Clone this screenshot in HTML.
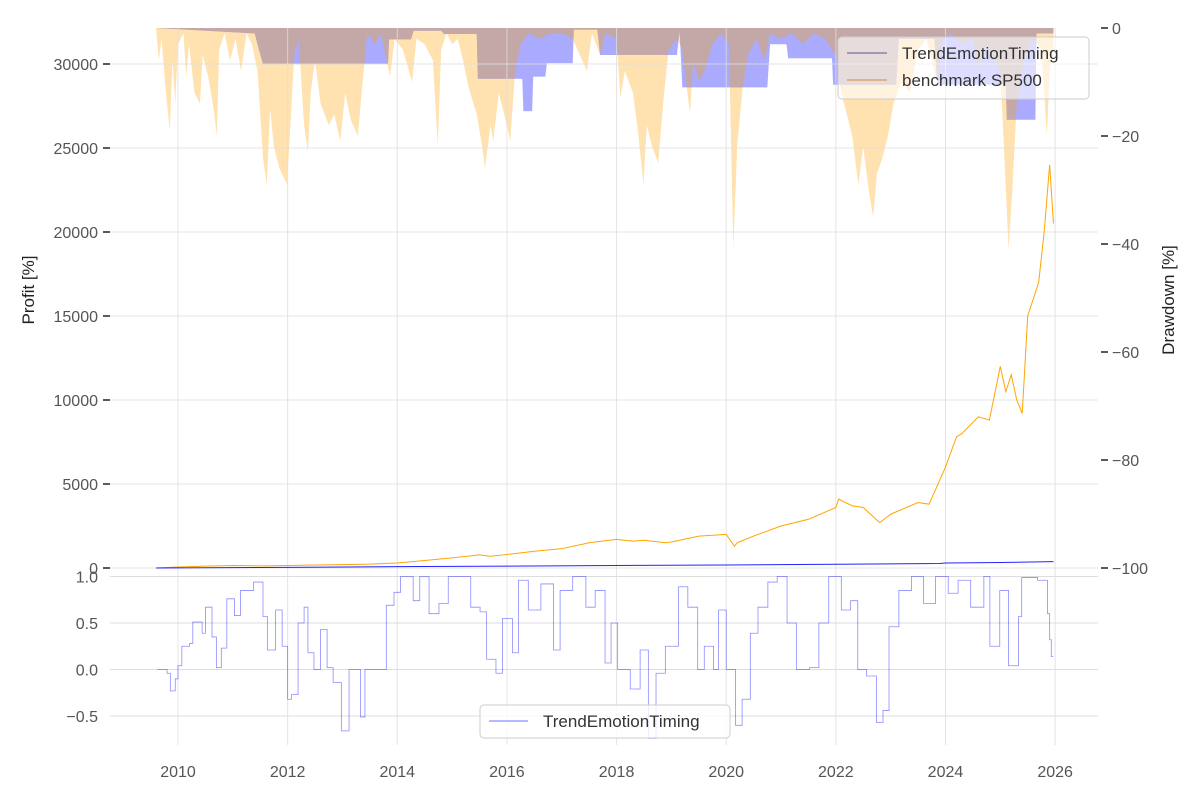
<!DOCTYPE html>
<html><head><meta charset="utf-8"><style>
html,body{margin:0;padding:0;background:#fff}
svg{display:block;font-family:"Liberation Sans",sans-serif}
</style></head><body>
<svg id="chart" width="1200" height="800" viewBox="0 0 1200 800">
<g id="areas"></g>
<g id="grid"></g>
<g id="lines"></g>
<g id="sig"></g>
<g id="axes"></g>
<text x="34" y="290" transform="rotate(-90 34 290)" text-anchor="middle" font-size="17" fill="#222">Profit [%]</text>
<text x="1174" y="300" transform="rotate(-90 1174 300)" text-anchor="middle" font-size="17" fill="#222">Drawdown [%]</text>
<g>
<rect x="838" y="37" width="251" height="62" rx="4" fill="#fff" fill-opacity="0.6" stroke="#ccc"/>
<line x1="847" y1="53" x2="887" y2="53" stroke="#6a4c8a" stroke-width="1"/>
<text x="902" y="59" font-size="17" fill="#333">TrendEmotionTiming</text>
<line x1="847" y1="80" x2="887" y2="80" stroke="#d08a3a" stroke-width="1"/>
<text x="902" y="86" font-size="17" fill="#333">benchmark SP500</text>
</g>
<g>
<rect x="480" y="705" width="250" height="33" rx="4" fill="#fff" fill-opacity="0.8" stroke="#ccc"/>
<line x1="489" y1="721" x2="528" y2="721" stroke="#b8b8ff" stroke-width="2"/>
<text x="543" y="727" font-size="17" fill="#333">TrendEmotionTiming</text>
</g>
</svg>
<script>
const years=[2010,2012,2014,2016,2018,2020,2022,2024,2026];
const profitTicks=[0,5000,10000,15000,20000,25000,30000];
const ddTicks=[0,-20,-40,-60,-80,-100];
const sigTicks=[1.0,0.5,0.0,-0.5];
const sigTickLabels=["1.0","0.5","0.0","\u22120.5"];
const benchYears=[2009.6,2010,2010.5,2011,2011.6,2012,2012.5,2013,2013.5,2014,2014.5,2015,2015.5,2015.7,2016,2016.5,2017,2017.5,2018,2018.3,2018.5,2018.9,2019,2019.5,2020,2020.15,2020.2,2020.5,2021,2021.5,2022,2022.05,2022.3,2022.5,2022.8,2023,2023.5,2023.7,2024,2024.2,2024.3,2024.6,2024.8,2025,2025.1,2025.2,2025.3,2025.4,2025.5,2025.7,2025.8,2025.85,2025.9,2025.93,2025.95,2025.97];
const benchValues=[0,60,110,150,130,150,180,200,230,300,450,600,780,700,800,1000,1150,1500,1700,1600,1650,1500,1550,1900,2000,1300,1500,1900,2500,2900,3600,4100,3700,3600,2700,3200,3900,3800,6000,7800,8000,9000,8800,12000,10500,11500,10000,9200,15000,17000,20000,22000,24000,22500,21500,20500];
const stratYears=[2009.6,2012,2014,2016,2018,2020,2022,2023.9,2024,2025,2025.97];
const stratValues=[0,40,80,110,150,180,220,270,300,330,380];
const ddBenchYears=[2009.6,2009.65,2009.7,2009.78,2009.85,2009.9,2009.95,2010.0,2010.1,2010.15,2010.2,2010.3,2010.4,2010.45,2010.55,2010.65,2010.71,2010.75,2010.85,2010.95,2011.05,2011.15,2011.25,2011.35,2011.45,2011.55,2011.62,2011.68,2011.75,2011.85,2011.99,2012.05,2012.12,2012.2,2012.3,2012.37,2012.42,2012.5,2012.6,2012.75,2012.85,2012.96,2013.05,2013.15,2013.28,2013.35,2013.45,2013.6,2013.7,2013.87,2013.95,2014.1,2014.27,2014.35,2014.5,2014.65,2014.74,2014.8,2014.9,2015.0,2015.1,2015.2,2015.3,2015.45,2015.55,2015.6,2015.7,2015.75,2015.85,2016.0,2016.06,2016.15,2016.25,2016.4,2016.6,2016.8,2017.0,2017.2,2017.46,2017.55,2017.7,2017.8,2018.0,2018.07,2018.15,2018.3,2018.4,2018.49,2018.55,2018.65,2018.76,2018.85,2018.95,2019.1,2019.2,2019.34,2019.4,2019.5,2019.6,2019.75,2019.9,2020.05,2020.13,2020.2,2020.3,2020.4,2020.55,2020.7,2020.8,2021.0,2021.2,2021.4,2021.6,2021.8,2022.0,2022.1,2022.2,2022.3,2022.41,2022.5,2022.6,2022.68,2022.75,2022.85,2022.95,2023.05,2023.2,2023.35,2023.5,2023.65,2023.75,2023.85,2023.95,2024.1,2024.3,2024.5,2024.6,2024.7,2024.85,2025.0,2025.08,2025.15,2025.22,2025.3,2025.45,2025.6,2025.75,2025.8,2025.85,2025.9,2025.94,2025.97];
const ddBenchValues=[0,-6,-2,-12,-19,-6,-14,-3,-1,-9,-3,-12,-14,-5,-9,-15,-20,-4,-1,-6,-2,-8,-1,-3,-8,-24,-29,-15,-22,-26,-29,-18,-5,-2,-18,-23,-12,-6,-14,-18,-16,-21,-12,-17,-20,-12,-1,-3,-1,-9,-2,-4,-10,-2,-3,-6,-22,-4,-1,-3,-2,-6,-11,-16,-22,-26,-18,-21,-12,-18,-21,-8,-3,-1,-2,-1,-1,-2,-8,-1,-5,-1,-2,-13,-8,-12,-20,-29,-18,-22,-25,-14,-4,-2,-4,-16,-6,-10,-8,-3,-1,-3,-41,-22,-11,-5,-2,-6,-1,-2,-1,-3,-1,-2,-5,-12,-16,-20,-29,-22,-30,-35,-27,-24,-20,-14,-10,-12,-4,-2,-6,-10,-2,-1,-3,-2,-8,-3,-5,-8,-25,-41,-30,-14,-5,-2,-4,-12,-20,-8,-6,-4];
const ddStratYears=[2009.6,2011.4,2011.44,2011.55,2013.83,2013.85,2014.25,2014.3,2014.8,2014.85,2015.45,2015.47,2016.28,2016.3,2016.46,2016.48,2016.7,2016.73,2017.2,2017.22,2017.65,2017.7,2019.1,2019.15,2019.2,2020.75,2020.8,2021.1,2021.13,2021.93,2021.95,2023.1,2023.15,2023.8,2023.85,2025.1,2025.12,2025.64,2025.66,2025.97];
const ddStratValues=[0,-1,-2.6,-6.7,-6.7,-2.1,-2.1,-0.5,-0.5,-1.1,-1.1,-9.4,-9.4,-15.4,-15.4,-9,-9,-6.5,-6.5,-0.3,-0.3,-5,-5,-0.5,-11,-11,-3,-3,-5.6,-5.6,-10.5,-10.5,-2,-2,-10.5,-10.5,-17,-17,-1,-1];
const sigYears=[2009.63,2009.8,2009.86,2009.95,2010.0,2010.07,2010.21,2010.27,2010.44,2010.5,2010.62,2010.7,2010.79,2010.89,2011.03,2011.14,2011.38,2011.55,2011.63,2011.78,2011.9,2012.0,2012.07,2012.19,2012.3,2012.37,2012.48,2012.6,2012.72,2012.83,2012.98,2013.12,2013.33,2013.41,2013.71,2013.8,2013.94,2014.06,2014.29,2014.41,2014.58,2014.76,2014.93,2015.22,2015.34,2015.51,2015.63,2015.8,2015.92,2016.1,2016.21,2016.39,2016.62,2016.85,2016.97,2017.2,2017.44,2017.61,2017.79,2017.9,2018.02,2018.25,2018.43,2018.58,2018.72,2018.89,2019.13,2019.3,2019.48,2019.6,2019.77,2019.86,2020.0,2020.17,2020.29,2020.44,2020.58,2020.76,2020.93,2021.11,2021.28,2021.52,2021.69,2021.87,2021.98,2022.1,2022.27,2022.4,2022.56,2022.74,2022.86,2022.97,2023.15,2023.38,2023.6,2023.82,2024.05,2024.23,2024.46,2024.7,2024.81,2024.99,2025.15,2025.33,2025.39,2025.68,2025.86,2025.9,2025.93,2025.97];
const sigValues=[0,-0.04,-0.23,-0.1,0.04,0.25,0.28,0.51,0.39,0.67,0.35,0.02,0.23,0.76,0.58,0.85,0.94,0.57,0.21,0.64,0.25,-0.32,-0.27,0.5,0.67,0.18,0,0.43,0.02,-0.14,-0.66,0,-0.51,0,0,0.69,0.83,1,0.74,1,0.6,0.71,1,1,0.67,0.62,0.11,-0.04,0.55,0.18,0.96,0.64,0.92,0.21,0.85,1,0.67,0.85,0.07,0.5,0,-0.21,0.21,-0.74,-0.04,0.25,0.89,0.67,0,0.25,0,0.64,0,-0.6,-0.32,0.39,0.67,0.94,1,0.5,0,0.02,0.5,1,1,0.64,0.74,0,-0.07,-0.57,-0.44,0.46,0.85,1,0.71,1,0.82,0.96,0.67,1,0.25,0.85,0.04,0.57,0.99,0.96,0.6,0.32,0.14,0.14];

const NS="http://www.w3.org/2000/svg";
const X0=110,X1=1098;
const xs=y=>178+(y-2010)*54.82;
const yP=v=>568-v*(504/30000);
const yD=v=>28-v*5.4;
const yS=v=>669.5-v*93;
function mk(p,tag,at){const e=document.createElementNS(NS,tag);for(const k in at)e.setAttribute(k,at[k]);p.appendChild(e);return e;}
function interp(xa,ya,x){if(x<=xa[0])return ya[0];for(let i=1;i<xa.length;i++){if(x<=xa[i]){const t=(x-xa[i-1])/(xa[i]-xa[i-1]);return ya[i-1]+t*(ya[i]-ya[i-1]);}}return ya[ya.length-1];}
const areas=document.getElementById('areas');
function areaPath(xa,ya,x0,x1){let d='M'+xs(x0)+','+yD(0);for(let x=x0;x<=x1+1e-9;x+=0.005){d+='L'+xs(x).toFixed(2)+','+yD(ya(x)).toFixed(2);}d+='L'+xs(x1)+','+yD(0)+'Z';return d;}
const ob=x=>interp(ddBenchYears,ddBenchValues,x);
const st=x=>x>ddStratYears[ddStratYears.length-1]?0:interp(ddStratYears,ddStratValues,x);
let a1=mk(areas,'path',{d:areaPath(0,ob,2009.6,2025.97),fill:'#ffe2b0'});


let a2=mk(areas,'path',{d:areaPath(0,st,2009.6,2025.97),fill:'#aaaaff'});


let a3=mk(areas,'path',{d:areaPath(0,x=>Math.max(ob(x),st(x)),2009.6,2025.97),fill:'#c4a8a8'});



const grid=document.getElementById('grid');
years.forEach(y=>{const l=mk(grid,'line',{x1:xs(y),x2:xs(y),y1:28,y2:745,stroke:'#ddd','stroke-width':1,'stroke-opacity':0.8});

});
profitTicks.forEach(v=>{const l=mk(grid,'line',{x1:X0,x2:X1,y1:yP(v),y2:yP(v),stroke:'#ddd','stroke-width':1,'stroke-opacity':0.8});

});
sigTicks.forEach(v=>{const l=mk(grid,'line',{x1:X0,x2:X1,y1:yS(v),y2:yS(v),stroke:'#ddd','stroke-width':1});

});

const lines=document.getElementById('lines');
function linePath(xa,ya,yf){return xa.map((x,i)=>(i?'L':'M')+xs(x).toFixed(2)+','+yf(ya[i]).toFixed(2)).join('');}
let bl=mk(lines,'path',{d:linePath(benchYears,benchValues,yP),fill:'none',stroke:'#ffa500','stroke-width':1});


let sl=mk(lines,'path',{d:linePath(stratYears,stratValues,yP),fill:'none',stroke:'#2222ff','stroke-width':1});



const sig=document.getElementById('sig');
let sd='';sigYears.forEach((x,i)=>{if(i===0)sd+='M'+xs(x)+','+yS(sigValues[i]);else sd+='H'+xs(x).toFixed(2)+'V'+yS(sigValues[i]).toFixed(2);});
let sp=mk(sig,'path',{d:sd,fill:'none',stroke:'#0000ff','stroke-opacity':0.45,'stroke-width':0.8});



const axes=document.getElementById('axes');
profitTicks.forEach(v=>{const t=mk(axes,'text',{x:98,y:yP(v)+6,'text-anchor':'end','font-size':16,fill:'#555'});t.textContent=String(v);


const m=mk(axes,'line',{x1:103,x2:110,y1:yP(v),y2:yP(v),stroke:'#222','stroke-width':1.5});

});
ddTicks.forEach(v=>{const m=mk(axes,'line',{x1:1101,x2:1108,y1:yD(v),y2:yD(v),stroke:'#222','stroke-width':1.5});


const t=mk(axes,'text',{x:1112,y:yD(v)+6,'font-size':16,fill:'#555'});t.textContent=(v<0?'\u2212'+(-v):String(v));

});
sigTicks.forEach((v,i)=>{const t=mk(axes,'text',{x:98,y:yS(v)+6,'text-anchor':'end','font-size':16,fill:'#555'});t.textContent=sigTickLabels[i];

});
years.forEach(y=>{const t=mk(axes,'text',{x:xs(y),y:777,'text-anchor':'middle','font-size':16,fill:'#555'});t.textContent=String(y);

});
</script>
</body></html>
